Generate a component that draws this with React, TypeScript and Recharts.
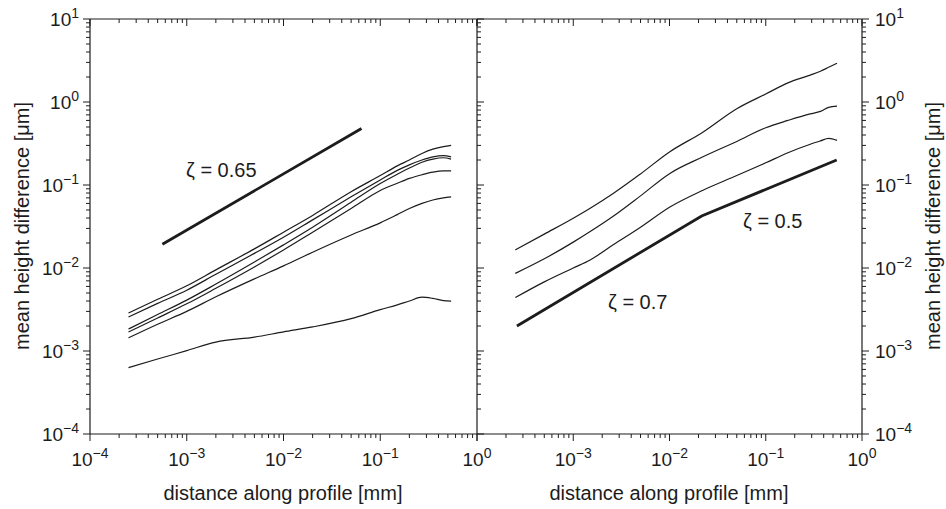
import { LineChart, Line, XAxis, YAxis } from "recharts";

const INK = "#1c1c1c";
const FONT = '"Liberation Sans", Arial, Helvetica, sans-serif';

// left panel: distance along profile [mm]
const leftX = [2.5e-4, 5e-4, 1e-3, 2e-3, 5e-3, 1e-2, 2e-2, 5e-2, 0.1, 0.15, 0.2, 0.27, 0.35, 0.45, 0.54];
const leftA = [2.87e-3, 4.2e-3, 6.1e-3, 9.5e-3, 0.017, 0.027, 0.043, 0.083, 0.13, 0.17, 0.2, 0.24, 0.27, 0.29, 0.3];
const leftB = [2.57e-3, 3.75e-3, 5.4e-3, 8.4e-3, 0.015, 0.0235, 0.038, 0.072, 0.115, 0.15, 0.175, 0.2, 0.218, 0.226, 0.218];
const leftC = [1.84e-3, 2.75e-3, 4.1e-3, 6.4e-3, 0.0118, 0.019, 0.031, 0.062, 0.104, 0.135, 0.16, 0.188, 0.205, 0.213, 0.205];
const leftD = [1.69e-3, 2.5e-3, 3.7e-3, 5.7e-3, 0.0103, 0.0165, 0.027, 0.052, 0.086, 0.105, 0.12, 0.133, 0.143, 0.148, 0.148];
const leftE = [1.44e-3, 2.1e-3, 3.0e-3, 4.5e-3, 7.4e-3, 0.0106, 0.0155, 0.025, 0.035, 0.044, 0.052, 0.06, 0.066, 0.07, 0.072];
const leftF = [6.3e-4, 8.0e-4, 1.01e-3, 1.28e-3, 1.47e-3, 1.7e-3, 1.95e-3, 2.45e-3, 3.15e-3, 3.6e-3, 4.0e-3, 4.45e-3, 4.3e-3, 4.05e-3, 4.0e-3];
const leftSlopeX = [5.6e-4, 0.064];
const leftSlopeY = [0.0193, 0.48];

// right panel
const rightX = [2.5e-4, 5e-4, 1e-3, 1.5e-3, 2.6e-3, 5e-3, 1e-2, 2.2e-2, 5e-2, 0.1, 0.17, 0.29, 0.37, 0.45, 0.55];
const right1 = [0.0165, 0.0256, 0.0398, 0.0525, 0.079, 0.136, 0.25, 0.43, 0.83, 1.25, 1.7, 2.11, 2.35, 2.62, 2.93];
const right2 = [8.6e-3, 0.0129, 0.0205, 0.0275, 0.042, 0.074, 0.137, 0.217, 0.335, 0.49, 0.6, 0.72, 0.77, 0.86, 0.89];
const right3 = [4.4e-3, 6.8e-3, 0.01, 0.0125, 0.019, 0.031, 0.054, 0.086, 0.13, 0.185, 0.245, 0.31, 0.34, 0.365, 0.345];
const rightSlopeX = [2.6e-4, 0.0216, 0.546];
const rightSlopeY = [2.0e-3, 0.0424, 0.2];

// axes (decade exponents)
const xDecades = [-4, -3, -2, -1, 0];
const yDecades = [-4, -3, -2, -1, 0, 1];
const leftXLabels = [-4, -3, -2, -1, 0];
const rightXLabels = [-3, -2, -1, 0];
const yLabels = [-4, -3, -2, -1, 0, 1];

const rows = (xs: number[], ys: number[]) => xs.map((x, i) => ({ x, y: ys[i] }));

function logTicks(decades: number[]) {
  const out: number[] = [];
  for (let i = 0; i < decades.length - 1; i++) {
    for (let m = 1; m <= 9; m++) out.push(m * Math.pow(10, decades[i]));
  }
  out.push(Math.pow(10, decades[decades.length - 1]));
  return out;
}
const xTicks = logTicks(xDecades);
const yTicks = logTicks(yDecades);

const isMajor = (v: number) => {
  const l = Math.log10(v);
  return Math.abs(l - Math.round(l)) < 1e-6;
};

function Pow({ x, y, exp, anchor }: { x: number; y: number; exp: number; anchor: string }) {
  return (
    <text x={x} y={y} textAnchor={anchor} fontFamily={FONT} fontSize={19} fill={INK}>
      10
      <tspan dy={-8} fontSize={14}>
        {exp < 0 ? `\u2212${-exp}` : `${exp}`}
      </tspan>
    </text>
  );
}

// side: which way the tick mark points; labels: exponents to print
const makeTick = (side: "down" | "up" | "left" | "right", labels: number[]) => (props: any) => {
  const { x, y, payload } = props;
  const v = payload.value;
  const major = isMajor(v);
  const e = Math.round(Math.log10(v));
  const len = major ? 7 : 4;
  const showLabel = major && labels.includes(e);
  let line;
  let label = null;
  if (side === "down") {
    line = <line x1={x} x2={x} y1={y} y2={y + len} stroke={INK} />;
    if (showLabel) label = <Pow x={x} y={y + 32} exp={e} anchor="middle" />;
  } else if (side === "up") {
    line = <line x1={x} x2={x} y1={y} y2={y + len} stroke={INK} />;
  } else if (side === "left") {
    line = <line x1={x} x2={x - len} y1={y} y2={y} stroke={INK} />;
    if (showLabel) label = <Pow x={x - 11} y={y + 7} exp={e} anchor="end" />;
  } else {
    line = <line x1={x} x2={x + len} y1={y} y2={y} stroke={INK} />;
    if (showLabel) label = <Pow x={x + 13} y={y + 7} exp={e} anchor="start" />;
  }
  return (
    <g>
      {line}
      {label}
    </g>
  );
};

const axisCommon = {
  type: "number" as const,
  scale: "log" as const,
  allowDataOverflow: true,
  tickSize: 0,
  tickMargin: 0,
  tickLine: false,
  axisLine: { stroke: INK, strokeWidth: 1.2 },
  interval: 0 as const,
};

const thin = { stroke: INK, strokeWidth: 1.2, dot: false, isAnimationActive: false, type: "monotone" as const };
const thick = { stroke: INK, strokeWidth: 2.8, dot: false, isAnimationActive: false, type: "linear" as const };

function Panel({ side }: { side: "left" | "right" }) {
  const isLeft = side === "left";
  // every axis is 1px deep, so the plot box sits at x 90..477 / 477..862, y 19..434
  const margin = isLeft
    ? { top: 18, right: 469, bottom: 74, left: 89 }
    : { top: 18, right: 83, bottom: 74, left: 476 };
  return (
    <div style={{ position: "absolute", left: 0, top: 0 }}>
      <LineChart width={946} height={509} margin={margin}>
        <XAxis
          {...axisCommon}
          dataKey="x"
          xAxisId="b"
          height={1}
          domain={[1e-4, 1]}
          ticks={xTicks}
          tick={makeTick("down", isLeft ? leftXLabels : rightXLabels)}
        />
        <XAxis
          {...axisCommon}
          dataKey="x"
          xAxisId="t"
          orientation="top"
          height={1}
          domain={[1e-4, 1]}
          ticks={xTicks}
          tick={makeTick("up", [])}
        />
        <YAxis
          {...axisCommon}
          yAxisId="l"
          width={1}
          domain={[1e-4, 10]}
          ticks={yTicks}
          tick={isLeft ? makeTick("left", yLabels) : makeTick("right", [])}
        />
        {!isLeft && (
          <YAxis
            {...axisCommon}
            yAxisId="r"
            orientation="right"
            width={1}
            domain={[1e-4, 10]}
            ticks={yTicks}
            tick={makeTick("right", yLabels)}
          />
        )}
        {isLeft ? (
          <>
            <Line {...thin} xAxisId="b" yAxisId="l" data={rows(leftX, leftA)} dataKey="y" />
            <Line {...thin} xAxisId="b" yAxisId="l" data={rows(leftX, leftB)} dataKey="y" />
            <Line {...thin} xAxisId="b" yAxisId="l" data={rows(leftX, leftC)} dataKey="y" />
            <Line {...thin} xAxisId="b" yAxisId="l" data={rows(leftX, leftD)} dataKey="y" />
            <Line {...thin} xAxisId="b" yAxisId="l" data={rows(leftX, leftE)} dataKey="y" />
            <Line {...thin} xAxisId="b" yAxisId="l" data={rows(leftX, leftF)} dataKey="y" />
            <Line {...thick} xAxisId="b" yAxisId="l" data={rows(leftSlopeX, leftSlopeY)} dataKey="y" />
          </>
        ) : (
          <>
            <Line {...thin} xAxisId="b" yAxisId="l" data={rows(rightX, right1)} dataKey="y" />
            <Line {...thin} xAxisId="b" yAxisId="l" data={rows(rightX, right2)} dataKey="y" />
            <Line {...thin} xAxisId="b" yAxisId="l" data={rows(rightX, right3)} dataKey="y" />
            <Line {...thick} xAxisId="b" yAxisId="l" data={rows(rightSlopeX, rightSlopeY)} dataKey="y" />
          </>
        )}
      </LineChart>
    </div>
  );
}

export default function App() {
  const label = { fontFamily: FONT, fontSize: 20, fill: INK };
  return (
    <div style={{ position: "absolute", left: 0, top: 0, width: 946, height: 509, background: "#fff" }}>
      <Panel side="left" />
      <Panel side="right" />
      <svg width={946} height={509} style={{ position: "absolute", left: 0, top: 0, pointerEvents: "none" }}>
        <text {...label} x={283} y={500} textAnchor="middle">distance along profile [mm]</text>
        <text {...label} x={669} y={500} textAnchor="middle">distance along profile [mm]</text>
        <text {...label} transform="translate(22,226) rotate(-90)" textAnchor="middle" dominantBaseline="central">
          mean height difference [μm]
        </text>
        <text {...label} transform="translate(933,226) rotate(-90)" textAnchor="middle" dominantBaseline="central">
          mean height difference [μm]
        </text>
        <text {...label} x={186} y={177}>ζ = 0.65</text>
        <text {...label} x={743} y={228}>ζ = 0.5</text>
        <text {...label} x={608} y={309}>ζ = 0.7</text>
      </svg>
    </div>
  );
}
